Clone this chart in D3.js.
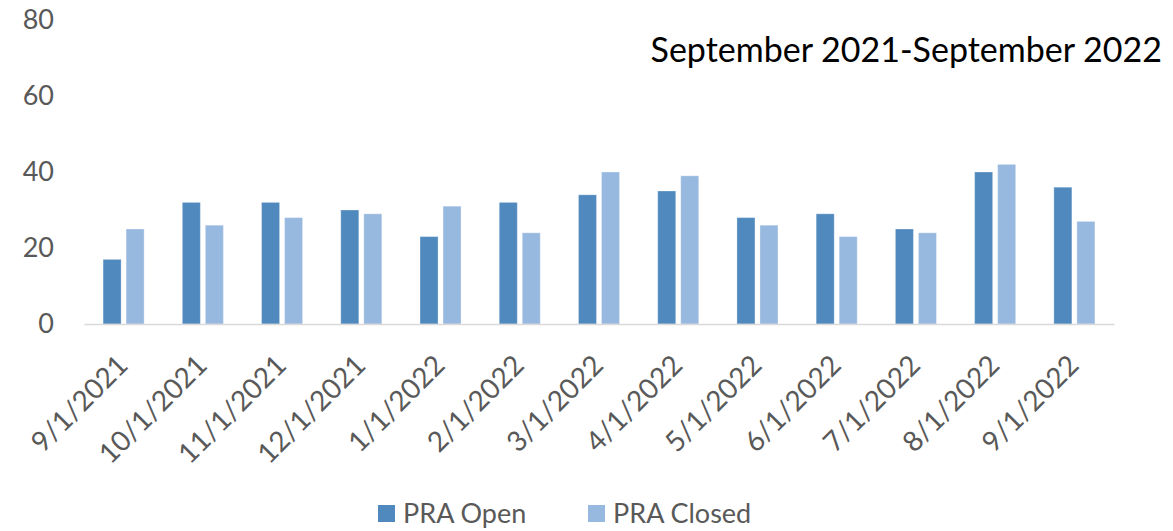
<!DOCTYPE html>
<html>
<head>
<meta charset="utf-8">
<script src="https://cdn.jsdelivr.net/npm/d3@7"></script>
<style>
  body { margin: 0; background: #fff; }
  svg text { font-family: Lato, "Open Sans", sans-serif; }
</style>
</head>
<body>
<div id="chart"></div>
<script>
var months = ['9/1/2021', '10/1/2021', '11/1/2021', '12/1/2021', '1/1/2022', '2/1/2022',
  '3/1/2022', '4/1/2022', '5/1/2022', '6/1/2022', '7/1/2022', '8/1/2022', '9/1/2022'];
var praOpen = [17, 32, 32, 30, 23, 32, 34, 35, 28, 29, 25, 40, 36];
var praClosed = [25, 26, 28, 29, 31, 24, 40, 39, 26, 23, 24, 42, 27];
var seriesNames = ['PRA Open', 'PRA Closed'];
var yTicks = [0, 20, 40, 60, 80];

var width = 1173,
    height = 531;

var margin = { left: 84, right: 59, top: 20, bottom: 207 };

var color = d3.scaleOrdinal()
  .domain(seriesNames)
  .range(['#4f89bd', '#98b9df']);

var svg = d3.select('#chart').append('svg')
  .attr('width', width)
  .attr('height', height);

var x0 = d3.scaleBand()
  .domain(months)
  .range([margin.left, width - margin.right])
  .paddingInner(0.482)
  .paddingOuter(0.241);

var x1 = d3.scaleBand()
  .domain(seriesNames)
  .range([0, x0.bandwidth()])
  .paddingInner(0.217);

var y = d3.scaleLinear()
  .domain([0, 80])
  .range([height - margin.bottom, margin.top]);

var rows = months.map(function(m, i) {
  return { month: m, values: [
    { name: seriesNames[0], value: praOpen[i] },
    { name: seriesNames[1], value: praClosed[i] }
  ] };
});

// y axis labels, no line
var yAxis = svg.append('g')
  .attr('transform', 'translate(' + (margin.left - 30) + ',0)')
  .call(d3.axisLeft(y).tickValues(yTicks).tickSize(0).tickPadding(0));
yAxis.select('.domain').remove();
yAxis.selectAll('text')
  .style('font-size', '27px')
  .style('fill', '#595959');

// bars
var groups = svg.selectAll('.group')
  .data(rows)
  .enter()
  .append('g').attr('class', 'group')
  .attr('transform', function(d) { return 'translate(' + x0(d.month) + ',0)'; });

groups.selectAll('rect')
  .data(function(d) { return d.values; })
  .enter()
  .append('rect')
  .attr('x', function(d) { return x1(d.name); })
  .attr('y', function(d) { return y(d.value); })
  .attr('width', x1.bandwidth())
  .attr('height', function(d) { return y(0) - y(d.value); })
  .style('fill', function(d) { return color(d.name); })
  .style('stroke', 'rgba(255,255,255,0.3)')
  .style('stroke-width', 1);

// x axis
var xAxis = svg.append('g')
  .attr('transform', 'translate(0,' + y(0) + ')')
  .call(d3.axisBottom(x0).tickSize(0).tickPadding(0));
xAxis.select('.domain')
  .attr('stroke', '#d9d9d9')
  .attr('stroke-width', 1.5);
xAxis.selectAll('text')
  .style('font-size', '28px')
  .style('fill', '#595959')
  .attr('text-anchor', 'end')
  .attr('y', 0)
  .attr('dy', 0)
  .attr('transform', 'translate(6,43) rotate(-45)');

// title
svg.append('text')
  .attr('x', 1162)
  .attr('y', 62)
  .attr('text-anchor', 'end')
  .style('font-size', '34px')
  .style('fill', '#000')
  .text('September 2021-September 2022');

// legend
var legend = svg.append('g')
  .attr('class', 'legend')
  .attr('transform', 'translate(378,505)');

var legendX = [0, 210];
var item = legend.selectAll('.item')
  .data(seriesNames)
  .enter()
  .append('g').attr('class', 'item')
  .attr('transform', function(d, i) { return 'translate(' + legendX[i] + ',0)'; });

item.append('rect')
  .attr('width', 17)
  .attr('height', 17)
  .style('fill', function(d) { return color(d); });

item.append('text')
  .attr('x', 25)
  .attr('y', 18)
  .style('font-size', '27px')
  .style('fill', '#595959')
  .text(function(d) { return d; });
</script>
</body>
</html>
